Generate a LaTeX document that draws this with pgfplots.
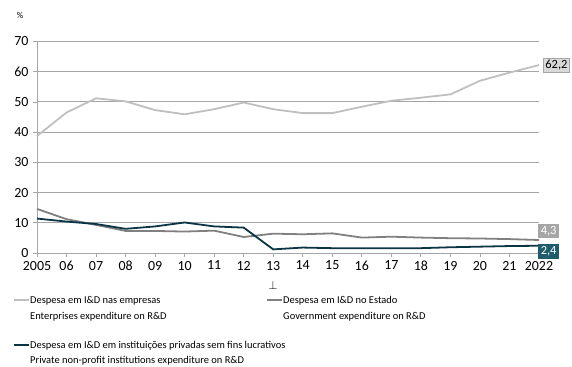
\documentclass[border=0pt]{standalone}
\usepackage{pgfplots}
\pgfplotsset{compat=1.18}
\usepackage{fontspec}
\setmainfont{Carlito}
\definecolor{entc}{HTML}{BFBFBF}
\definecolor{govc}{HTML}{808080}
\definecolor{prvc}{HTML}{0B3445}
\definecolor{prvbox}{HTML}{1F5C6B}
\definecolor{govbox}{HTML}{A6A6A6}
\definecolor{entbox}{HTML}{D9D9D9}
\definecolor{gridc}{HTML}{A6A6A6}
\begin{document}
\begin{tikzpicture}[x=1bp,y=1bp]
\useasboundingbox (0,0) rectangle (572,366);
\begin{axis}[
  at={(37bp,113bp)}, anchor=south west,
  scale only axis, width=502bp, height=211.5bp,
  xmin=2005, xmax=2022, ymin=0, ymax=70,
  axis x line*=bottom, axis y line*=left,
  axis line style={gridc, line width=0.8pt},
  xtick={2005,...,2022},
  xticklabels={2005,06,07,08,09,10,11,12,13,14,15,16,17,18,19,20,21,2022},
  ytick={0,10,...,70},
  ymajorgrids, grid style={gridc, line width=0.9pt},
  tick align=outside, major tick length=4bp,
  tick style={gridc, line width=0.8pt},
  /pgf/number format/assume math mode=true,
  tick label style={font=\fontsize{14}{16}\selectfont, black},
  xticklabel style={yshift=-0.5bp},
  yticklabel style={xshift=-1bp},
  clip=false,
]
\addplot[entc, line width=1.8pt] coordinates {
(2005,38.7) (2006,46.5) (2007,51.2) (2008,50.2) (2009,47.3) (2010,45.9)
(2011,47.6) (2012,49.8) (2013,47.6) (2014,46.3) (2015,46.3) (2016,48.4)
(2017,50.4) (2018,51.4) (2019,52.5) (2020,57.0) (2021,59.7) (2022,62.2)};
\addplot[govc, line width=1.8pt] coordinates {
(2005,14.6) (2006,11.2) (2007,9.3) (2008,7.3) (2009,7.3) (2010,7.1)
(2011,7.4) (2012,5.3) (2013,6.4) (2014,6.2) (2015,6.5) (2016,5.1)
(2017,5.4) (2018,5.1) (2019,4.9) (2020,4.8) (2021,4.6) (2022,4.3)};
\addplot[prvc, line width=1.8pt] coordinates {
(2005,11.4) (2006,10.4) (2007,9.6) (2008,8.0) (2009,8.8) (2010,10.1)
(2011,8.8) (2012,8.4) (2013,1.2) (2014,1.8) (2015,1.6) (2016,1.6)
(2017,1.6) (2018,1.6) (2019,1.9) (2020,2.1) (2021,2.3) (2022,2.4)};
\node[anchor=west, fill=entbox, draw=gridc, line width=0.4pt, inner sep=2.2bp, font=\fontsize{12.5}{14}\selectfont] at (axis cs:2022,62.2) [xshift=4bp] {62,2};
\node[anchor=west, fill=govbox, text=white, inner sep=2.6bp, font=\fontsize{12.5}{14}\selectfont] at (axis cs:2022,4.3) [xshift=-1bp, yshift=9bp] {4,3};
\node[anchor=west, fill=prvbox, text=white, inner sep=2.6bp, font=\fontsize{12.5}{14}\selectfont] at (axis cs:2022,2.4) [xshift=-1bp, yshift=-6bp] {2,4};
\end{axis}
\node[font=\fontsize{9}{10}\selectfont] at (20,351) {\%};
\node[font=\fontsize{13}{14}\selectfont] at (273,81) {$\perp$};
% legend
\begin{scope}[font=\fontsize{10.5}{12}\selectfont]
\draw[entc, line width=1.8pt] (14,66) -- (29,66);
\node[anchor=base west, inner sep=0pt] at (30,62.5) {Despesa em I\&D nas empresas};
\node[anchor=base west, inner sep=0pt] at (30,46.5) {Enterprises expenditure on R\&D};
\draw[govc, line width=1.8pt] (267,66) -- (282,66);
\node[anchor=base west, inner sep=0pt] at (283,62.5) {Despesa em I\&D no Estado};
\node[anchor=base west, inner sep=0pt] at (283,46.5) {Government expenditure on R\&D};
\draw[prvc, line width=1.8pt] (14,21) -- (29,21);
\node[anchor=base west, inner sep=0pt] at (30,17.5) {Despesa em I\&D em instituições privadas sem fins lucrativos};
\node[anchor=base west, inner sep=0pt] at (30,2.5) {Private non-profit institutions expenditure on R\&D};
\end{scope}
\end{tikzpicture}
\end{document}
